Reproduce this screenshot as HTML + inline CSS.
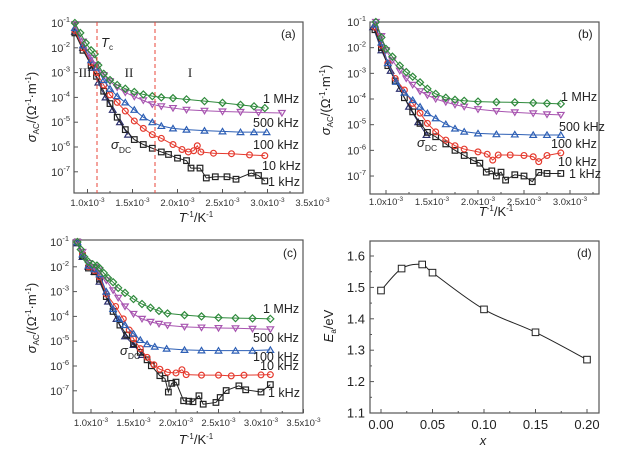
<!DOCTYPE html>
<html><head><meta charset="utf-8"><style>
html,body{margin:0;padding:0;background:#fff;}
svg{display:block;font-family:"Liberation Sans",sans-serif;}
</style></head><body>
<svg id="chart" width="632" height="459" viewBox="0 0 632 459" xmlns="http://www.w3.org/2000/svg"></svg>
<script>
// ---- Panel (a) data: [T^-1 (1e-3 K^-1), log10 sigma] ----
const a_1MHz=[[0.86,-1.0],[0.92,-1.4],[0.98,-1.8],[1.04,-2.1],[1.08,-2.25],[1.12,-2.7],[1.18,-3.05],[1.25,-3.3],[1.33,-3.5],[1.42,-3.65],[1.52,-3.78],[1.62,-3.88],[1.72,-3.95],[1.82,-4.0],[1.95,-4.03],[2.1,-4.08],[2.3,-4.15],[2.5,-4.22],[2.7,-4.3],[2.85,-4.36],[2.97,-4.43]];
const a_500k=[[0.86,-1.05],[0.95,-1.75],[1.04,-2.4],[1.1,-2.7],[1.18,-3.1],[1.25,-3.35],[1.33,-3.6],[1.42,-3.8],[1.52,-3.97],[1.62,-4.12],[1.72,-4.28],[1.82,-4.36],[1.95,-4.43],[2.1,-4.5],[2.3,-4.54],[2.5,-4.57],[2.7,-4.59],[2.9,-4.61],[3.16,-4.63]];
const a_100k=[[0.86,-1.2],[0.95,-1.9],[1.04,-2.5],[1.1,-2.8],[1.18,-3.3],[1.25,-3.65],[1.33,-3.95],[1.42,-4.2],[1.52,-4.5],[1.62,-4.8],[1.72,-5.0],[1.82,-5.15],[1.95,-5.25],[2.1,-5.3],[2.3,-5.34],[2.5,-5.37],[2.7,-5.4],[2.85,-5.4],[2.99,-5.4]];
const a_10k=[[0.86,-1.3],[0.95,-2.0],[1.04,-2.6],[1.1,-3.0],[1.18,-3.5],[1.25,-3.9],[1.33,-4.2],[1.42,-4.55],[1.52,-4.95],[1.62,-5.25],[1.72,-5.5],[1.82,-5.65],[1.95,-5.9],[2.05,-6.1],[2.12,-6.2],[2.18,-6.15],[2.22,-5.95],[2.26,-6.2],[2.4,-6.25],[2.6,-6.27],[2.8,-6.32],[2.97,-6.35]];
const a_1k=[[0.86,-1.4],[0.95,-2.1],[1.04,-2.7],[1.1,-3.15],[1.18,-3.75],[1.25,-4.25],[1.33,-4.8],[1.42,-5.3],[1.52,-5.7],[1.62,-5.9],[1.72,-6.05],[1.82,-6.2],[1.9,-6.3],[2.0,-6.45],[2.1,-6.55],[2.15,-6.85],[2.25,-6.85],[2.32,-7.25],[2.42,-7.2],[2.55,-7.2],[2.65,-7.3],[2.82,-7.05],[2.9,-7.15],[2.97,-7.37]];
const a_dc=[[0.86,-1.35],[0.95,-2.0],[1.05,-2.8],[1.12,-3.4],[1.2,-4.0],[1.28,-4.5],[1.36,-5.0],[1.45,-5.5]];
const a_xticks=[1.0,1.5,2.0,2.5,3.0,3.5];
// ---- Panel (b) ----
const b_1MHz=[[0.89,-1.0],[0.95,-1.6],[1.0,-2.05],[1.07,-2.35],[1.15,-2.7],[1.22,-2.95],[1.29,-3.13],[1.37,-3.35],[1.45,-3.6],[1.54,-3.8],[1.65,-3.95],[1.75,-4.03],[1.85,-4.07],[2.0,-4.1],[2.2,-4.12],[2.4,-4.13],[2.6,-4.15],[2.75,-4.17],[2.9,-4.19]];
const b_500k=[[0.89,-1.0],[0.95,-1.55],[1.0,-2.1],[1.07,-2.5],[1.15,-2.9],[1.22,-3.2],[1.29,-3.45],[1.37,-3.7],[1.45,-3.85],[1.54,-4.0],[1.65,-4.12],[1.75,-4.22],[1.85,-4.3],[2.0,-4.4],[2.2,-4.47],[2.4,-4.52],[2.6,-4.56],[2.75,-4.6],[2.9,-4.62]];
const b_100k=[[0.88,-1.1],[0.95,-1.8],[1.02,-2.6],[1.11,-3.33],[1.2,-3.75],[1.29,-4.04],[1.37,-4.3],[1.45,-4.55],[1.54,-4.75],[1.65,-4.98],[1.75,-5.15],[1.85,-5.27],[2.0,-5.34],[2.2,-5.37],[2.4,-5.38],[2.6,-5.4],[2.75,-5.4],[2.9,-5.4]];
const b_10k=[[0.88,-1.2],[0.95,-1.9],[1.02,-2.6],[1.1,-3.2],[1.2,-3.65],[1.29,-4.17],[1.37,-4.55],[1.45,-4.95],[1.54,-5.28],[1.65,-5.6],[1.75,-5.82],[1.85,-5.95],[2.0,-6.06],[2.1,-6.15],[2.16,-6.38],[2.22,-6.18],[2.35,-6.18],[2.5,-6.2],[2.6,-6.25],[2.66,-6.44],[2.75,-6.2],[2.9,-6.1]];
const b_1k=[[0.88,-1.3],[0.95,-2.0],[1.02,-2.7],[1.1,-3.3],[1.2,-3.95],[1.29,-4.5],[1.37,-4.95],[1.45,-5.3],[1.54,-5.47],[1.65,-5.75],[1.75,-6.0],[1.85,-6.2],[1.95,-6.4],[2.02,-6.5],[2.09,-6.85],[2.15,-6.8],[2.2,-7.0],[2.25,-6.85],[2.3,-7.16],[2.4,-6.95],[2.5,-7.0],[2.59,-7.22],[2.66,-6.86],[2.75,-6.9],[2.9,-6.9]];
const b_dc=[[0.86,-1.2],[0.95,-2.1],[1.05,-2.9],[1.15,-3.6],[1.25,-4.3],[1.35,-4.9],[1.44,-5.4]];
const b_xticks=[1.0,1.5,2.0,2.5,3.0];
// ---- Panel (c) ----
const c_1MHz=[[0.84,-1.0],[0.88,-1.3],[0.92,-1.6],[0.97,-1.8],[1.02,-1.9],[1.07,-1.95],[1.1,-2.05],[1.15,-2.25],[1.2,-2.45],[1.26,-2.62],[1.32,-2.85],[1.4,-3.05],[1.5,-3.3],[1.6,-3.5],[1.7,-3.65],[1.8,-3.78],[1.9,-3.88],[2.1,-3.95],[2.3,-4.0],[2.5,-4.05],[2.7,-4.07],[2.9,-4.08],[3.11,-4.1]];
const c_500k=[[0.84,-1.0],[0.9,-1.4],[0.97,-1.85],[1.04,-2.0],[1.1,-2.15],[1.18,-2.55],[1.26,-2.95],[1.32,-3.25],[1.4,-3.6],[1.5,-3.9],[1.6,-4.1],[1.7,-4.22],[1.8,-4.3],[1.9,-4.36],[2.1,-4.42],[2.3,-4.45],[2.5,-4.47],[2.7,-4.48],[2.9,-4.5],[3.11,-4.52]];
const c_100k=[[0.84,-1.0],[0.9,-1.5],[0.97,-1.95],[1.04,-2.1],[1.1,-2.3],[1.18,-3.0],[1.26,-3.7],[1.33,-4.1],[1.4,-4.35],[1.5,-4.7],[1.58,-4.95],[1.66,-5.12],[1.75,-5.22],[1.89,-5.3],[2.1,-5.35],[2.3,-5.37],[2.5,-5.38],[2.7,-5.38],[2.9,-5.38],[3.11,-5.35]];
const c_10k=[[0.84,-1.0],[0.9,-1.5],[0.97,-2.0],[1.04,-2.15],[1.1,-2.4],[1.18,-3.1],[1.29,-3.6],[1.38,-4.1],[1.45,-4.55],[1.5,-4.9],[1.58,-5.3],[1.66,-5.65],[1.74,-5.95],[1.81,-6.13],[1.9,-6.25],[2.0,-6.28],[2.07,-6.15],[2.12,-6.35],[2.3,-6.37],[2.5,-6.37],[2.65,-6.4],[2.8,-6.37],[3.0,-6.36],[3.11,-6.35]];
const c_1k=[[0.84,-1.0],[0.9,-1.55],[0.97,-2.05],[1.04,-2.2],[1.1,-2.5],[1.18,-3.2],[1.26,-3.8],[1.34,-4.35],[1.42,-4.75],[1.5,-5.1],[1.58,-5.45],[1.66,-5.75],[1.71,-5.99],[1.81,-6.39],[1.87,-6.5],[1.91,-7.05],[1.95,-6.7],[2.0,-6.65],[2.09,-7.4],[2.15,-7.42],[2.2,-7.44],[2.27,-7.2],[2.32,-7.54],[2.47,-7.47],[2.52,-7.27],[2.59,-6.99],[2.74,-6.8],[2.82,-6.96],[3.0,-7.05],[3.11,-6.75]];
const c_dc=[[0.84,-1.05],[0.9,-1.6],[0.97,-2.0],[1.04,-2.2],[1.1,-2.6],[1.2,-3.4],[1.3,-4.1],[1.4,-4.8],[1.5,-5.15],[1.6,-5.55]];
const c_xticks=[1.0,1.5,2.0,2.5,3.0,3.5];
// ---- Panel (d) ----
const d_x=[0,0.02,0.04,0.05,0.10,0.15,0.20];
const d_Ea=[1.49,1.56,1.573,1.547,1.43,1.357,1.27];
const d_xticks=[0,0.05,0.10,0.15,0.20];
const d_yticks=[1.1,1.2,1.3,1.4,1.5,1.6];
const decades=[-1,-2,-3,-4,-5,-6,-7];

const NS="http://www.w3.org/2000/svg";
const svg=document.getElementById('chart');
function el(tag,attrs,parent){const e=document.createElementNS(NS,tag);for(const k in attrs)e.setAttribute(k,attrs[k]);(parent||svg).appendChild(e);return e;}
const COL={g:'#2f8a3c',p:'#a855b0',b:'#2d5fb5',r:'#e53a2e',k:'#222',n:'#2b2f6e'};

function marker(g,shape,x,y,c){
  let m;
  if(shape==='diamond') m=el('polygon',{points:`${x},${y-3.5} ${x+3.5},${y} ${x},${y+3.5} ${x-3.5},${y}`},g);
  else if(shape==='tdown') m=el('polygon',{points:`${x-3.3},${y-2.5} ${x+3.3},${y-2.5} ${x},${y+3}`},g);
  else if(shape==='tup') m=el('polygon',{points:`${x-3.3},${y+2.5} ${x+3.3},${y+2.5} ${x},${y-3}`},g);
  else if(shape==='circle') m=el('circle',{cx:x,cy:y,r:2.9},g);
  else m=el('rect',{x:x-2.8,y:y-2.8,width:5.6,height:5.6},g);
  m.setAttribute('fill','none');m.setAttribute('stroke',c);m.setAttribute('stroke-width','1.2');
  
  
}

function logPanel(cfg){
  const P=el('g',{});
  
  
  const X=v=>cfg.x1+(v-1)*cfg.xs, Y=v=>cfg.y1+(-1-v)*cfg.yd;
  const f=el('rect',{x:cfg.L,y:cfg.T,width:cfg.R-cfg.L,height:cfg.B-cfg.T,fill:'none',stroke:'#555','stroke-width':1.2},P);
  
  cfg.xt.forEach(t=>{
    const x=X(t);
    if(x<=cfg.R+0.5) el('line',{x1:x,x2:x,y1:cfg.B,y2:cfg.B-4,stroke:'#555'},P);
    const mx=X(t+0.25); if(mx<cfg.R) el('line',{x1:mx,x2:mx,y1:cfg.B,y2:cfg.B-2,stroke:'#555'},P);
    const tx=el('text',{x:x,y:cfg.B+cfg.tly,'font-size':9.5,'text-anchor':'middle',fill:'#333'},P);
    
    tx.textContent=t.toFixed(1)+'x10';
    const s=el('tspan',{dy:-4,'font-size':6.5},tx);s.textContent='-3';
  });
  decades.forEach(d=>{
    const y=Y(d);
    el('line',{x1:cfg.L,x2:cfg.L+4,y1:y,y2:y,stroke:'#555'},P);
    const tx=el('text',{x:cfg.L-4,y:y+4,'font-size':11,'text-anchor':'end',fill:'#333'},P);
    
    tx.textContent='10';
    const s=el('tspan',{dy:-5,'font-size':7.5},tx);s.textContent=String(d);
  });
  const series=[[cfg.dc,'tup',COL.n,'sigma-dc'],[cfg.s1k,'square',COL.k,'series-1khz'],[cfg.s10k,'circle',COL.r,'series-10khz'],[cfg.s100k,'tup',COL.b,'series-100khz'],[cfg.s500k,'tdown',COL.p,'series-500khz'],[cfg.s1M,'diamond',COL.g,'series-1mhz']];
  series.forEach(([data,shape,c,name])=>{
    const g=el('g',{},P);
    
    el('polyline',{points:data.map(p=>X(p[0])+','+Y(p[1])).join(' '),fill:'none',stroke:c,'stroke-width':1},g);
    data.forEach(p=>marker(g,shape,X(p[0]),Y(p[1]),c));
  });
  return P;
}
function label(txt,x,y,size,name,anchor,parent,family){
  const t=el('text',{x:x,y:y,'font-size':size,'text-anchor':anchor||'start',fill:'#222'},parent);
  if(family)t.setAttribute('font-family',family);
  
  t.textContent=txt;return t;
}
function sigmaDC(x,y){const t=el('text',{x:x,y:y,'font-size':13,fill:'#222','font-style':'italic'});t.textContent='σ';const s=el('tspan',{dy:4,'font-size':8.5,'font-style':'normal'},t);s.textContent='DC';}
function yTitle(x,y){const t=el('text',{x:0,y:0,'font-size':13,fill:'#222',transform:`translate(${x},${y}) rotate(-90)`,'text-anchor':'middle'});
  
  const a=el('tspan',{'font-style':'italic'},t);a.textContent='σ';
  const b=el('tspan',{dy:3,'font-size':8},t);b.textContent='AC';
  const c=el('tspan',{dy:-3},t);c.textContent='/(Ω';
  const d=el('tspan',{dy:-5,'font-size':8},t);d.textContent='-1';
  const e=el('tspan',{dy:5},t);e.textContent='·m';
  const f2=el('tspan',{dy:-5,'font-size':8},t);f2.textContent='-1';
  const g=el('tspan',{dy:5},t);g.textContent=')';}
function xTitle(x,y){const t=el('text',{x:x,y:y,'font-size':13,fill:'#222','text-anchor':'middle'});
  
  const a=el('tspan',{'font-style':'italic'},t);a.textContent='T';
  const b=el('tspan',{dy:-5,'font-size':8},t);b.textContent='-1';
  const c=el('tspan',{dy:5},t);c.textContent='/K';
  const d=el('tspan',{dy:-5,'font-size':8},t);d.textContent='-1';}
function freqLabels(pos){const names=['1 MHz','500 kHz','100 kHz','10 kHz','1 kHz'];pos.forEach((p,i)=>label(names[i],p[0],p[1],12.5,'series-label','start'));}

// Panel a
logPanel({id:'a',L:74,T:22,R:303,B:193,x1:87.5,xs:90,y1:23,yd:24.8,tly:13,xt:a_xticks,s1M:a_1MHz,s500k:a_500k,s100k:a_100k,s10k:a_10k,s1k:a_1k,dc:a_dc});
[97,155].forEach(x=>{const l=el('line',{x1:x,x2:x,y1:22,y2:193,stroke:'#e8443a','stroke-dasharray':'4,3','stroke-width':1});});
(function(){const t=el('text',{x:101,y:47,'font-size':13,fill:'#222','font-style':'italic'});t.textContent='T';const s=el('tspan',{dy:3,'font-size':8,'font-style':'normal'},t);s.textContent='c';})();
label('III',85,77,13,'region-iii-label','middle',null,'"Liberation Serif",serif');
label('II',129,77,13,'region-ii-label','middle',null,'"Liberation Serif",serif');
label('I',190,77,13,'region-i-label','middle',null,'"Liberation Serif",serif');
label('(a)',281,38,12,'panel-label','start');
freqLabels([[263,103],[253,127],[253,149],[262,170],[268,186]]);
sigmaDC(111,149);yTitle(36,107);xTitle(196,222);

// Panel b
logPanel({id:'b',L:370,T:22,R:599,B:194,x1:386,xs:92,y1:22,yd:25.67,tly:11,xt:b_xticks,s1M:b_1MHz,s500k:b_500k,s100k:b_100k,s10k:b_10k,s1k:b_1k,dc:b_dc});
label('(b)',578,38,12,'panel-label','start');
freqLabels([[561,101],[559,131],[551,148],[558,166],[569,178]]);
sigmaDC(417,147);yTitle(330,100);xTitle(496,216);

// Panel c
logPanel({id:'c',L:73,T:240,R:303,B:413,x1:91,xs:85,y1:242,yd:24.8,tly:13,xt:c_xticks,s1M:c_1MHz,s500k:c_500k,s100k:c_100k,s10k:c_10k,s1k:c_1k,dc:c_dc});
label('(c)',283,257,12,'panel-label','start');
freqLabels([[263,313],[253,342],[253,361],[260,370],[268,397]]);
sigmaDC(120,355);yTitle(36,318);xTitle(196,444);

// Panel d
(function(){
  const L=370,T=241,R=599,B=413;
  const X=v=>381+v/0.2*206, Y=v=>413-(v-1.1)/0.1*31.4;
  const P=el('g',{});
  const f=el('rect',{x:L,y:T,width:R-L,height:B-T,fill:'none',stroke:'#555','stroke-width':1.2},P);
  
  d_xticks.forEach(t=>{const x=X(t);el('line',{x1:x,x2:x,y1:B,y2:B-4,stroke:'#555'},P);
    const mx=X(t+0.025);if(mx<R)el('line',{x1:mx,x2:mx,y1:B,y2:B-2,stroke:'#555'},P);
    label(t.toFixed(2),x,B+16,13,'x-tick-label','middle',P);});
  d_yticks.forEach(t=>{const y=Y(t);el('line',{x1:L,x2:L+4,y1:y,y2:y,stroke:'#555'},P);
    const my=Y(t+0.05);if(my>T)el('line',{x1:L,x2:L+2,y1:my,y2:my,stroke:'#555'},P);
    label(t.toFixed(1),L-5,y+4.5,13,'y-tick-label','end',P);});
  const pts=d_x.map((x,i)=>[X(x),Y(d_Ea[i])]);
  let d='M'+pts[0][0]+','+pts[0][1];
  for(let i=0;i<pts.length-1;i++){
    const p0=pts[i-1]||pts[i],p1=pts[i],p2=pts[i+1],p3=pts[i+2]||p2;
    const c1=[p1[0]+(p2[0]-p0[0])/6,p1[1]+(p2[1]-p0[1])/6],c2=[p2[0]-(p3[0]-p1[0])/6,p2[1]-(p3[1]-p1[1])/6];
    d+=` C${c1[0]},${c1[1]} ${c2[0]},${c2[1]} ${p2[0]},${p2[1]}`;
  }
  const c=el('path',{d:d,fill:'none',stroke:'#222','stroke-width':1},P);
  
  pts.forEach(p=>{const r=el('rect',{x:p[0]-3.3,y:p[1]-3.3,width:6.6,height:6.6,fill:'#fff',stroke:'#222'},P);});
  label('(d)',577,257,12,'panel-label','start',P);
  const xt=el('text',{x:483,y:445,'font-size':13,'font-style':'italic','text-anchor':'middle',fill:'#222'});xt.textContent='x';
  const yt=el('text',{x:0,y:0,'font-size':13,fill:'#222','text-anchor':'middle',transform:'translate(333,326) rotate(-90)'});
  
  const a=el('tspan',{'font-style':'italic'},yt);a.textContent='E';const b=el('tspan',{dy:3,'font-size':8},yt);b.textContent='a';const cc=el('tspan',{dy:-3},yt);cc.textContent='/eV';
})();
</script>
</body></html>
